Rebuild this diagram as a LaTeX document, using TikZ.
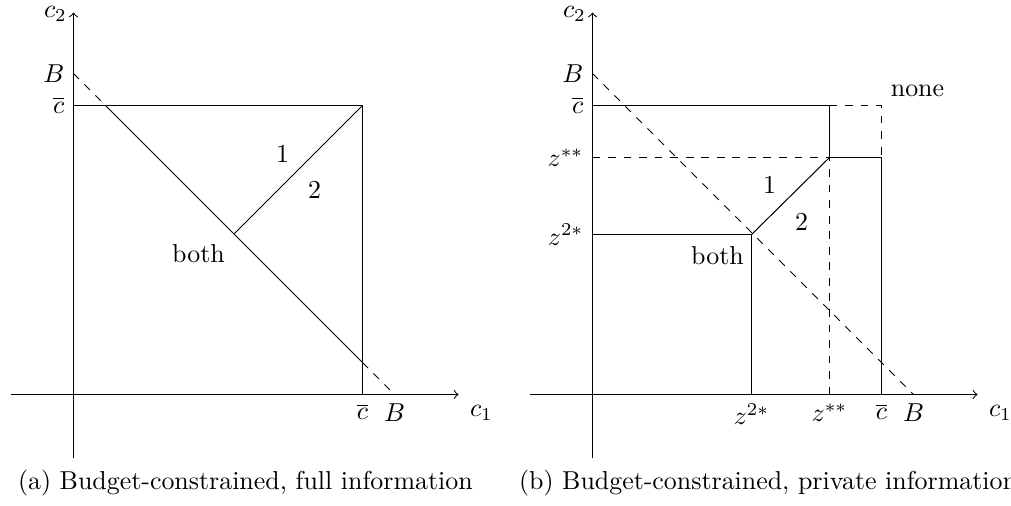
\documentclass[tikz,border=0pt]{standalone}
\tikzset{
  axis line/.style={->},
  budget dash/.style={dashed},
  plain line/.style={},
  tiplabel/.style={anchor=base west, inner sep=0pt},
  captxt/.style={anchor=base west, inner sep=0pt}
}
\begin{document}
\begin{tikzpicture}[x=0.3861pt,y=-0.3861pt,shift={(0.5,0.5)}]
\useasboundingbox (-0.5,-0.5) rectangle (1010.5,504.5);
\clip (-0.5,-0.5) rectangle (1010.5,504.5);
% ---------------- left panel ----------------
\coordinate (aYb) at (73,457);
\coordinate (aYt) at (73,12);
\coordinate (aXl) at (10,394);
\coordinate (aXr) at (458,394);
\coordinate (aBy) at (73,73);
\coordinate (aBx) at (394,394);
\coordinate (aCy) at (73,105);
\coordinate (aCx) at (362,394);
\coordinate (aCC) at (362,105);
\coordinate (aP) at (105,105);
\coordinate (aQ) at (362,362);
\coordinate (aM) at (233.5,233.5);
\draw[axis line] (aYb) -- (aYt);
\draw[axis line] (aXl) -- (aXr);
\draw[budget dash] (aBy) -- (aP);
\draw[plain line] (aP) -- (aQ);
\draw[budget dash] (aQ) -- (aBx);
\draw[plain line] (aCy) -- (aCC) -- (aCx);
\draw[plain line] (aCC) -- (aM);
\node[tiplabel] (ac2) at (43,17) {$c_2$};
\node[tiplabel] (ac1) at (469,416) {$c_1$};
\node[left] (aBl) at (aBy) {$B$};
\node[left] (aCl) at (aCy) {$\overline{c}$};
\node[below] (aCb) at (aCx) {$\overline{c}$};
\node[below] (aBb) at (aBx) {$B$};
\node (a1) at (282,153) {1};
\node (a2) at (314,189) {2};
\node (aboth) at (198,253) {both};
% ---------------- right panel ----------------
\coordinate (bYb) at (592,457);
\coordinate (bYt) at (592,12);
\coordinate (bXl) at (529,394);
\coordinate (bXr) at (977,394);
\coordinate (bBy) at (592,73);
\coordinate (bBx) at (913,394);
\coordinate (bCy) at (592,105);
\coordinate (bZy) at (592,157);
\coordinate (bTy) at (592,234);
\coordinate (bCx) at (881,394);
\coordinate (bZx) at (829,394);
\coordinate (bTx) at (751,394);
\coordinate (bZC) at (829,105);
\coordinate (bCC) at (881,105);
\coordinate (bZZ) at (829,157);
\coordinate (bCZ) at (881,157);
\coordinate (bTT) at (751,234);
\draw[axis line] (bYb) -- (bYt);
\draw[axis line] (bXl) -- (bXr);
\draw[budget dash] (bBy) -- (bBx);
\draw[plain line] (bCy) -- (bZC) -- (bZZ) -- (bCZ) -- (bCx);
\draw[budget dash] (bZC) -- (bCC) -- (bCZ);
\draw[budget dash] (bZy) -- (bZZ) -- (bZx);
\draw[plain line] (bZZ) -- (bTT);
\draw[plain line] (bTy) -- (bTT) -- (bTx);
\node[tiplabel] (bc2) at (562,17) {$c_2$};
\node[tiplabel] (bc1) at (988,416) {$c_1$};
\node[left] (bBl) at (bBy) {$B$};
\node[left] (bCl) at (bCy) {$\overline{c}$};
\node[left] (bZl) at (bZy) {$z^{**}$};
\node[left] (bTl) at (bTy) {$z^{2*}$};
\node[below] (bTb) at (bTx) {$z^{2*}$};
\node[below] (bZb) at (bZx) {$z^{**}$};
\node[below] (bCb) at (bCx) {$\overline{c}$};
\node[below] (bBb) at (bBx) {$B$};
\node (b1) at (769,184) {1};
\node (b2) at (801,221) {2};
\node (bboth) at (717,255) {both};
\node (bnone) at (917,90) {none};
% ---------------- captions ----------------
\node[captxt] (capa) at (17,489) {(a) Budget-constrained, full information};
\node[captxt] (capb) at (518,489) {(b) Budget-constrained, private information};
\end{tikzpicture}
\end{document}
